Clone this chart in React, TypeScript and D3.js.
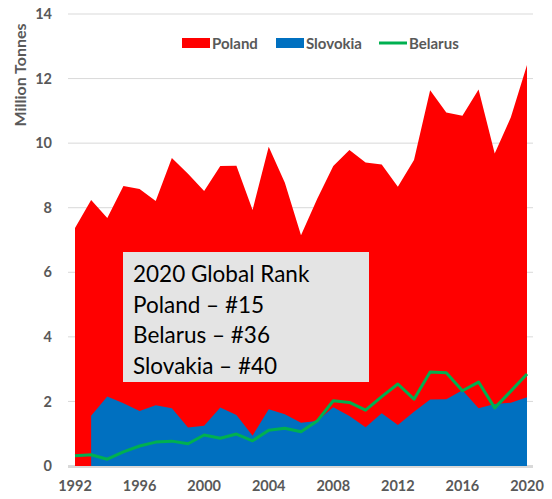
import * as d3 from 'd3';

// Years and series (million tonnes)
const years = d3.range(1992, 2021);
const poland = [7.37, 8.24, 7.68, 8.67, 8.58, 8.21, 9.54, 9.05, 8.52, 9.29, 9.3, 7.93, 9.89, 8.77, 7.15, 8.27, 9.29, 9.79, 9.4, 9.34, 8.65, 9.48, 11.64, 10.95, 10.85, 11.66, 9.68, 10.8, 12.42];
// Slovakia starts in 1993
const slovakia = [null, 1.56, 2.15, 1.94, 1.7, 1.88, 1.79, 1.19, 1.25, 1.81, 1.58, 0.94, 1.76, 1.6, 1.34, 1.39, 1.82, 1.55, 1.2, 1.63, 1.27, 1.68, 2.06, 2.07, 2.35, 1.79, 1.92, 1.96, 2.13];
const belarus = [0.32, 0.35, 0.21, 0.44, 0.62, 0.74, 0.77, 0.69, 0.96, 0.86, 0.99, 0.78, 1.11, 1.17, 1.06, 1.39, 2.02, 1.97, 1.73, 2.15, 2.54, 2.07, 2.91, 2.89, 2.33, 2.6, 1.8, 2.32, 2.85];

const yTicks = [0, 2, 4, 6, 8, 10, 12, 14];
const xTicks = [1992, 1996, 2000, 2004, 2008, 2012, 2016, 2020];
const rankLines = ['2020 Global Rank', 'Poland \u2013 #15', 'Belarus \u2013 #36', 'Slovakia \u2013 #40'];

const legendItems = [
  { name: 'Poland', color: '#ff0000', kind: 'rect', x: 182 },
  { name: 'Slovokia', color: '#0070c0', kind: 'rect', x: 276 },
  { name: 'Belarus', color: '#00b050', kind: 'line', x: 379 },
];

export default function App() {
  const width = 552;
  const height = 499;
  const font = 'Lato, "Open Sans", sans-serif';
  const axisColor = '#595959';

  const x = d3.scaleLinear().domain([1992, 2020]).range([75, 527]);
  const y = d3.scaleLinear().domain([0, 14]).range([466, 14]);

  const area = d3.area<number | null>()
    .defined(d => d != null)
    .x((d, i) => x(years[i]))
    .y0(y(0))
    .y1(d => y(d as number));

  const line = d3.line<number>()
    .x((d, i) => x(years[i]))
    .y(d => y(d));

  return (
    <div style={{ position: 'absolute', left: 0, top: 0 }}>
      <svg width={width} height={height} style={{ display: 'block', background: '#fff' }}>
        {/* grid */}
        {yTicks.map(t => (
          <line key={t} x1={68} x2={533} y1={y(t)} y2={y(t)}
            stroke="#d9d9d9" strokeWidth={t === 0 ? 2 : 1} />
        ))}

        {/* series */}
        <path d={area(poland) || ''} fill="#ff0000" />
        <path d={area(slovakia) || ''} fill="#0070c0" />
        <path d={line(belarus) || ''} fill="none" stroke="#00b050" strokeWidth={3} strokeLinejoin="round" />

        {/* baseline on top */}
        <line x1={68} x2={533} y1={y(0) + 1} y2={y(0) + 1} stroke="#d9d9d9" strokeWidth={2} />

        {/* y tick labels */}
        {yTicks.map(t => (
          <text key={t} x={52} y={y(t)} dy="0.35em" textAnchor="end"
            fontFamily={font} fontWeight="bold" fontSize={14.5} fill={axisColor}>{t}</text>
        ))}

        {/* x tick labels */}
        {xTicks.map(t => (
          <text key={t} x={x(t)} y={491} textAnchor="middle"
            fontFamily={font} fontWeight="bold" fontSize={14.5} fill={axisColor}>{t}</text>
        ))}

        {/* y axis title */}
        <text transform="translate(26,75) rotate(-90)" textAnchor="middle"
          fontFamily={font} fontWeight="bold" fontSize={16} fill={axisColor}>Million Tonnes</text>

        {/* legend */}
        {legendItems.map(item => (
          <g key={item.name}>
            {item.kind === 'rect'
              ? <rect x={item.x} y={38} width={28} height={10} fill={item.color} />
              : <line x1={item.x} x2={item.x + 28} y1={43} y2={43} stroke={item.color} strokeWidth={3} />}
            <text x={item.x + 30} y={48.5} fontFamily={font} fontWeight="bold" fontSize={15} fill={axisColor}>{item.name}</text>
          </g>
        ))}

        {/* rank box */}
        <rect x={123} y={252} width={246} height={130} fill="#e4e4e4" />
        {rankLines.map((s, i) => (
          <text key={s} x={133} y={282 + i * 30.7} fontFamily={font} fontSize={22.5} fill="#000">{s}</text>
        ))}
      </svg>
    </div>
  );
}
